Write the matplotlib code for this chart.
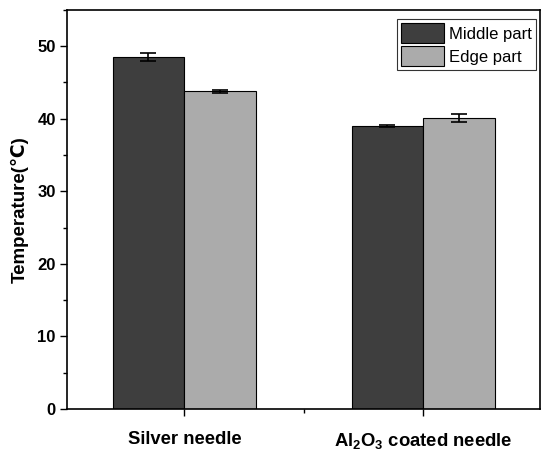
import matplotlib
matplotlib.use("Agg")
import matplotlib.pyplot as plt
import numpy as np
from matplotlib.ticker import MultipleLocator, FixedLocator

plt.rcParams['font.family'] = ['Liberation Sans', 'DejaVu Sans']
plt.rcParams['mathtext.fontset'] = 'custom'
plt.rcParams['mathtext.rm'] = 'Liberation Sans:bold'
plt.rcParams['mathtext.it'] = 'Liberation Sans:bold'
plt.rcParams['mathtext.bf'] = 'Liberation Sans:bold'

categories = ["Silver needle", r"Al$_2$O$_3$ coated needle"]
series_names = ["Middle part", "Edge part"]
middle_vals = [48.5, 39.0]
middle_err = [0.5, 0.15]
edge_vals = [43.8, 40.05]
edge_err = [0.2, 0.55]
colors = ["#3e3e3e", "#ababab"]

fig = plt.figure(figsize=(5.43, 4.5), dpi=100)
ax = fig.add_axes([0.123, 0.091, 0.872, 0.887])

x = np.array([1, 2])
w = 0.3
ax.bar(x - w/2, middle_vals, w, yerr=middle_err, color=colors[0], edgecolor='black',
       linewidth=0.8, capsize=6, error_kw=dict(elinewidth=1.2, capthick=1.2, ecolor='black'),
       label=series_names[0])
ax.bar(x + w/2, edge_vals, w, yerr=edge_err, color=colors[1], edgecolor='black',
       linewidth=0.8, capsize=6, error_kw=dict(elinewidth=1.2, capthick=1.2, ecolor='black'),
       label=series_names[1])

ax.set_xlim(0.508, 2.49)
ax.set_ylim(0, 55)
ax.set_xticks(x)
ax.set_xticklabels(categories, fontsize=13.3, fontweight='bold')
ax.xaxis.set_minor_locator(FixedLocator([1.5]))
ax.yaxis.set_major_locator(MultipleLocator(10))
ax.yaxis.set_minor_locator(MultipleLocator(5))
ax.tick_params(axis='y', which='major', length=5, width=1, labelsize=12, pad=3)
ax.tick_params(axis='y', which='minor', length=3, width=1)
ax.tick_params(axis='x', which='major', length=5, width=1, pad=11)
ax.tick_params(axis='x', which='minor', length=3, width=1)
for lab in ax.get_yticklabels():
    lab.set_fontweight('bold')
ax.set_ylabel("Temperature(℃)", fontsize=13.5, fontweight='bold', labelpad=6)
for s in ax.spines.values():
    s.set_linewidth(1.2)

leg = ax.legend(loc='upper right', fontsize=12, frameon=True, fancybox=False,
                edgecolor='black', handlelength=2.6, handleheight=1.45,
                handletextpad=0.3, borderpad=0.25, labelspacing=0.2,
                borderaxespad=0, bbox_to_anchor=(0.992, 0.977))
leg.get_frame().set_linewidth(0.8)

fig.savefig("out.png", dpi=100)
